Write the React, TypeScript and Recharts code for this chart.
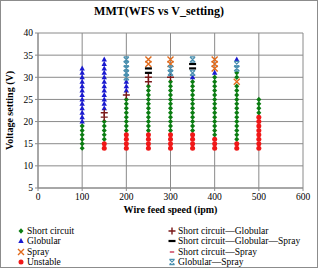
import { CartesianGrid, Label, Scatter, ScatterChart, XAxis, YAxis } from 'recharts'

type Col = [number, number[]]

// wire feed speed (ipm) -> voltage settings (V) observed for each transfer mode
const SHORT_CIRCUIT: Col[] = [
  [100, [14, 15, 16, 17, 18, 19]],
  [150, [16, 17, 18, 19, 20]],
  [200, [18, 19, 20, 21, 22, 23, 24, 25]],
  [250, [18, 19, 20, 21, 22, 23, 24, 25, 26, 27, 28]],
  [300, [18, 19, 20, 21, 22, 23, 24, 25, 26, 27, 28, 29]],
  [350, [18, 19, 20, 21, 22, 23, 24, 25, 26, 27, 28, 29]],
  [400, [17, 18, 19, 20, 21, 22, 23, 24, 25, 26, 27, 28, 29, 30]],
  [450, [16, 17, 18, 19, 20, 21, 22, 23, 24, 25, 26, 27, 28, 30, 31]],
  [500, [22, 23, 24, 25]],
]
const GLOBULAR: Col[] = [
  [100, [20, 21, 22, 23, 24, 25, 26, 27, 28, 29, 30, 31, 32]],
  [150, [23, 24, 25, 26, 27, 28, 29, 30, 31, 32, 33, 34]],
  [200, [27, 28, 29]],
  [350, [30]],
  [400, [31]],
  [450, [34]],
]
const SPRAY: Col[] = [
  [250, [33, 34]],
  [300, [33, 34]],
  [400, [32, 33, 34]],
  [450, [29]],
]
const UNSTABLE: Col[] = [
  [150, [14, 15]],
  [200, [14, 15, 16, 17]],
  [250, [14, 15, 16, 17]],
  [300, [14, 15, 16, 17]],
  [350, [14, 15, 16, 17]],
  [400, [14, 15, 16]],
  [450, [14, 15]],
  [500, [14, 15, 16, 17, 18, 19, 20, 21]],
]
const SC_GLOB: Col[] = [
  [150, [21, 22]],
  [200, [26]],
  [250, [29, 30]],
  [300, [30]],
]
const SC_GLOB_SPRAY: Col[] = [
  [250, [31, 32]],
  [350, [32, 33]],
]
const SC_SPRAY: Col[] = []
const GLOB_SPRAY: Col[] = [
  [200, [30, 31, 32, 33, 34]],
  [300, [31, 32]],
  [350, [31, 34]],
  [450, [32, 33]],
]

const WFS_TICKS = [0, 100, 200, 300, 400, 500, 600]
const VOLT_TICKS = [5, 10, 15, 20, 25, 30, 35, 40]

const toPoints = (cols: Col[]) => cols.flatMap(([x, vs]) => vs.map((y) => ({ x, y })))

type Kind = 'diamond' | 'triangle' | 'cross' | 'circle' | 'plus' | 'dash' | 'shortdash' | 'star'

function Marker({ kind, cx, cy, color }: { kind: Kind; cx: number; cy: number; color: string }) {
  switch (kind) {
    case 'diamond':
      return <path d={`M${cx},${cy - 2.7}L${cx + 2.5},${cy}L${cx},${cy + 2.7}L${cx - 2.5},${cy}Z`} fill={color} />
    case 'triangle':
      return <path d={`M${cx},${cy - 3}L${cx + 2.7},${cy + 2}L${cx - 2.7},${cy + 2}Z`} fill={color} />
    case 'cross':
      return (
        <path
          d={`M${cx - 3},${cy - 3}L${cx + 3},${cy + 3}M${cx + 3},${cy - 3}L${cx - 3},${cy + 3}`}
          stroke={color}
          strokeWidth={1.4}
        />
      )
    case 'circle':
      return <circle cx={cx} cy={cy} r={2.5} fill={color} />
    case 'plus':
      return (
        <path d={`M${cx - 3.5},${cy}L${cx + 3.5},${cy}M${cx},${cy - 3.5}L${cx},${cy + 3.5}`} stroke={color} strokeWidth={1.4} />
      )
    case 'dash':
      return <rect x={cx - 3.5} y={cy - 1.1} width={7} height={2.2} fill={color} />
    case 'shortdash':
      return <rect x={cx - 2.2} y={cy - 0.8} width={4.4} height={1.6} fill={color} />
    case 'star':
      return (
        <path
          d={`M${cx - 2.6},${cy - 2.6}L${cx + 2.6},${cy + 2.6}M${cx + 2.6},${cy - 2.6}L${cx - 2.6},${cy + 2.6}M${cx - 2.6},${cy - 2.6}L${cx + 2.6},${cy - 2.6}M${cx - 2.6},${cy + 2.6}L${cx + 2.6},${cy + 2.6}`}
          stroke={color}
          strokeWidth={1.2}
        />
      )
  }
}

const SERIES: { name: string; cols: Col[]; kind: Kind; color: string }[] = [
  { name: 'Short circuit', cols: SHORT_CIRCUIT, kind: 'diamond', color: '#0b7d12' },
  { name: 'Globular', cols: GLOBULAR, kind: 'triangle', color: '#1a1ad0' },
  { name: 'Spray', cols: SPRAY, kind: 'cross', color: '#e06a1c' },
  { name: 'Unstable', cols: UNSTABLE, kind: 'circle', color: '#f01818' },
  { name: 'Short circuit\u2014Globular', cols: SC_GLOB, kind: 'plus', color: '#7a1818' },
  { name: 'Short circuit\u2014Globular\u2014Spray', cols: SC_GLOB_SPRAY, kind: 'dash', color: '#000000' },
  { name: 'Short circuit\u2014Spray', cols: SC_SPRAY, kind: 'shortdash', color: '#d0506a' },
  { name: 'Globular\u2014Spray', cols: GLOB_SPRAY, kind: 'star', color: '#4a90b0' },
]

const FONT = '"Liberation Serif", "Times New Roman", serif'

export default function App() {
  return (
    <div
      style={{
        position: 'absolute',
        left: 0,
        top: 0,
        width: 318,
        height: 268,
        boxSizing: 'border-box',
        border: '1px solid #8c8c8c',
        background: '#fff',
        fontFamily: FONT,
      }}
    >
      <div
        style={{
          position: 'absolute',
          left: 0,
          top: 3,
          width: 316,
          textAlign: 'center',
          fontWeight: 'bold',
          fontSize: 12,
        }}
      >
        MMT(WFS vs V_setting)
      </div>
      <ScatterChart
        width={316}
        height={266}
        margin={{ top: 32, right: 14, left: 0, bottom: 45 }}
        style={{ position: 'absolute', left: 0, top: 0, fontFamily: FONT }}
      >
        <CartesianGrid stroke="#8a8a8a" strokeWidth={1} />
        <XAxis
          type="number"
          dataKey="x"
          domain={[0, 600]}
          ticks={WFS_TICKS}
          interval={0}
          height={34}
          stroke="#8a8a8a"
          tickSize={3}
          tick={{ fill: '#000', fontSize: 9.5, fontFamily: FONT }}
        >
          <Label
            value="Wire feed speed (ipm)"
            position="insideBottom"
            offset={9}
            style={{ fontWeight: 'bold', fontSize: 10, fill: '#000', fontFamily: FONT }}
          />
        </XAxis>
        <YAxis
          type="number"
          dataKey="y"
          domain={[5, 40]}
          ticks={VOLT_TICKS}
          interval={0}
          width={37}
          stroke="#8a8a8a"
          tickSize={3}
          tick={{ fill: '#000', fontSize: 9.5, fontFamily: FONT }}
        >
          <Label
            value="Voltage setting (V)"
            angle={-90}
            position="insideLeft"
            offset={8}
            style={{ textAnchor: 'middle', fontWeight: 'bold', fontSize: 10, fill: '#000', fontFamily: FONT }}
          />
        </YAxis>
        {SERIES.map((s) => (
          <Scatter
            key={s.name}
            name={s.name}
            data={toPoints(s.cols)}
            isAnimationActive={false}
            shape={(p: any) => <Marker kind={s.kind} cx={p.cx} cy={p.cy} color={s.color} />}
          />
        ))}
      </ScatterChart>
      {SERIES.map((s, i) => {
        const col = i < 4 ? 0 : 1
        const row = i % 4
        return (
          <div
            key={s.name}
            style={{
              position: 'absolute',
              left: col === 0 ? 15 : 166,
              top: 224 + row * 10.5,
              height: 11,
              display: 'flex',
              alignItems: 'center',
              fontSize: 9.5,
              whiteSpace: 'nowrap',
            }}
          >
            <svg width={10} height={10} style={{ marginRight: 1 }}>
              <Marker kind={s.kind} cx={5} cy={5} color={s.color} />
            </svg>
            {s.name}
          </div>
        )
      })}
    </div>
  )
}
